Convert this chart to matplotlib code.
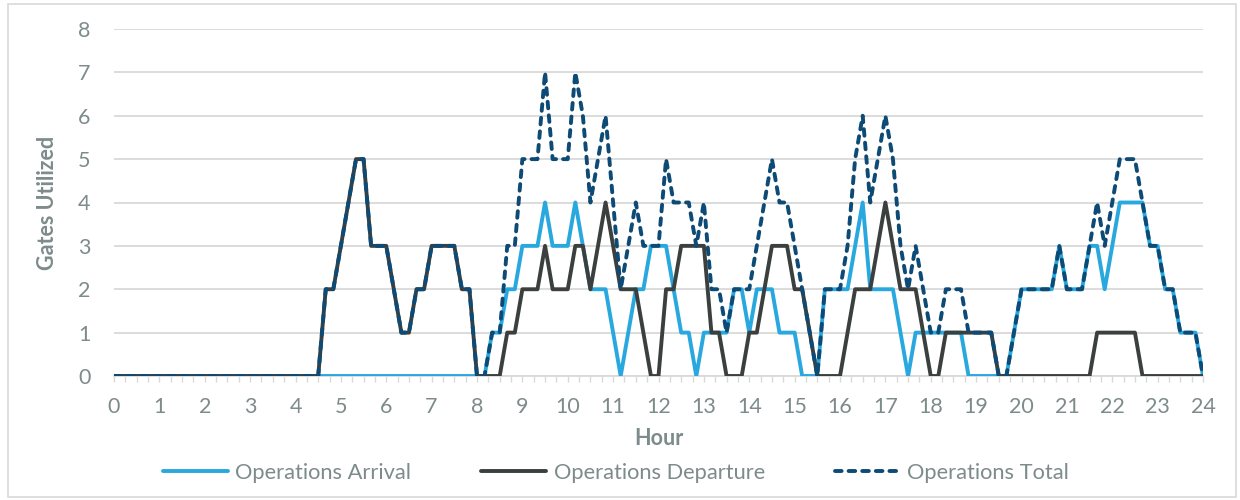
import matplotlib
matplotlib.use("Agg")
import matplotlib.pyplot as plt
from matplotlib.lines import Line2D
from matplotlib.patches import Rectangle

# Gate usage in 10-minute slots from 0:00 to 24:00 (six slots per hour, plus the 24:00 point)
arrival = [
    0, 0, 0, 0, 0, 0,   # 0
    0, 0, 0, 0, 0, 0,   # 1
    0, 0, 0, 0, 0, 0,   # 2
    0, 0, 0, 0, 0, 0,   # 3
    0, 0, 0, 0, 0, 0,   # 4
    0, 0, 0, 0, 0, 0,   # 5
    0, 0, 0, 0, 0, 0,   # 6
    0, 0, 0, 0, 0, 0,   # 7
    0, 0, 1, 1, 2, 2,   # 8
    3, 3, 3, 4, 3, 3,   # 9
    3, 4, 3, 2, 2, 2,   # 10
    1, 0, 1, 2, 2, 3,   # 11
    3, 3, 2, 1, 1, 0,   # 12
    1, 1, 1, 1, 2, 2,   # 13
    1, 2, 2, 2, 1, 1,   # 14
    1, 0, 0, 0, 2, 2,   # 15
    2, 2, 3, 4, 2, 2,   # 16
    2, 2, 1, 0, 1, 1,   # 17
    1, 1, 1, 1, 1, 0,   # 18
    0, 0, 0, 0, 0, 1,   # 19
    2, 2, 2, 2, 2, 3,   # 20
    2, 2, 2, 3, 3, 2,   # 21
    3, 4, 4, 4, 4, 3,   # 22
    3, 2, 2, 1, 1, 1,   # 23
    0,
]

departure = [
    0, 0, 0, 0, 0, 0,   # 0
    0, 0, 0, 0, 0, 0,   # 1
    0, 0, 0, 0, 0, 0,   # 2
    0, 0, 0, 0, 0, 0,   # 3
    0, 0, 0, 0, 2, 2,   # 4
    3, 4, 5, 5, 3, 3,   # 5
    3, 2, 1, 1, 2, 2,   # 6
    3, 3, 3, 3, 2, 2,   # 7
    0, 0, 0, 0, 1, 1,   # 8
    2, 2, 2, 3, 2, 2,   # 9
    2, 3, 3, 2, 3, 4,   # 10
    3, 2, 2, 2, 1, 0,   # 11
    0, 2, 2, 3, 3, 3,   # 12
    3, 1, 1, 0, 0, 0,   # 13
    1, 1, 2, 3, 3, 3,   # 14
    2, 2, 1, 0, 0, 0,   # 15
    0, 1, 2, 2, 2, 3,   # 16
    4, 3, 2, 2, 2, 1,   # 17
    0, 0, 1, 1, 1, 1,   # 18
    1, 1, 1, 0, 0, 0,   # 19
    0, 0, 0, 0, 0, 0,   # 20
    0, 0, 0, 0, 1, 1,   # 21
    1, 1, 1, 1, 0, 0,   # 22
    0, 0, 0, 0, 0, 0,   # 23
    0,
]

total = [
    0, 0, 0, 0, 0, 0,   # 0
    0, 0, 0, 0, 0, 0,   # 1
    0, 0, 0, 0, 0, 0,   # 2
    0, 0, 0, 0, 0, 0,   # 3
    0, 0, 0, 0, 2, 2,   # 4
    3, 4, 5, 5, 3, 3,   # 5
    3, 2, 1, 1, 2, 2,   # 6
    3, 3, 3, 3, 2, 2,   # 7
    0, 0, 1, 1, 3, 3,   # 8
    5, 5, 5, 7, 5, 5,   # 9
    5, 7, 6, 4, 5, 6,   # 10
    4, 2, 3, 4, 3, 3,   # 11
    3, 5, 4, 4, 4, 3,   # 12
    4, 2, 2, 1, 2, 2,   # 13
    2, 3, 4, 5, 4, 4,   # 14
    3, 2, 1, 0, 2, 2,   # 15
    2, 3, 5, 6, 4, 5,   # 16
    6, 5, 3, 2, 3, 2,   # 17
    1, 1, 2, 2, 2, 1,   # 18
    1, 1, 1, 0, 0, 1,   # 19
    2, 2, 2, 2, 2, 3,   # 20
    2, 2, 2, 3, 4, 3,   # 21
    4, 5, 5, 5, 4, 3,   # 22
    3, 2, 2, 1, 1, 1,   # 23
    0,
]

slots_per_hour = 6
times = [i / slots_per_hour for i in range(len(total))]
hour_ticks = list(range(0, 25))
y_ticks = list(range(0, 9))

series_names = ["Operations Arrival", "Operations Departure", "Operations Total"]
col_arrival = "#29a8e0"
col_departure = "#3b403f"
col_total = "#0d4a75"
text_col = "#7d8b8a"
grid_col = "#d9d9d9"
FONT = "Lato"

plt.rcParams["font.family"] = [FONT, "DejaVu Sans"]

fig = plt.figure(figsize=(12.4, 5.0), dpi=100)
ax = fig.add_axes([114 / 1240, 1 - 376 / 500, (1203 - 114) / 1240, (376 - 29) / 500])

lw = 2.8
ax.plot(times, arrival, color=col_arrival, lw=lw, solid_joinstyle="round",
        solid_capstyle="round", zorder=3)
ax.plot(times, departure, color=col_departure, lw=lw, solid_joinstyle="round",
        solid_capstyle="round", zorder=4)
ax.plot(times, total, color=col_total, lw=lw, ls=(0, (1.7, 1.8)),
        dash_capstyle="round", dash_joinstyle="round", zorder=5)

ax.set_xlim(0, 24)
ax.set_ylim(0, 8)
ax.set_xticks(hour_ticks)
ax.set_xticklabels([str(h) for h in hour_ticks])
ax.set_xticks([q / 4 for q in range(0, 97)], minor=True)
ax.set_yticks(y_ticks)

ax.grid(axis="y", color=grid_col, lw=1.3, zorder=0)
ax.set_axisbelow(True)
for side in ("top", "right", "left"):
    ax.spines[side].set_visible(False)
ax.spines["bottom"].set_color(grid_col)
ax.spines["bottom"].set_linewidth(1.3)

ax.tick_params(axis="x", which="both", direction="out", length=4, width=1.0,
               color=grid_col, labelcolor=text_col, labelsize=15.5, pad=11)
ax.tick_params(axis="y", length=0, labelcolor=text_col, labelsize=15.5, pad=17)

ax.set_xlabel("Hour", fontsize=15.5, fontweight="bold", color=text_col, labelpad=8)
ax.set_ylabel("Gates Utilized", fontsize=15.5, fontweight="bold", color=text_col, labelpad=14)

handles = [
    Line2D([], [], color=col_arrival, lw=lw, solid_capstyle="round"),
    Line2D([], [], color=col_departure, lw=lw, solid_capstyle="round"),
    Line2D([], [], color=col_total, lw=lw, ls=(0, (1.7, 1.8)), dash_capstyle="round"),
]
leg = fig.legend(handles, series_names, loc="center", bbox_to_anchor=(616 / 1240, 1 - 473 / 500),
                 ncol=3, frameon=False, fontsize=15.75, handlelength=2.95, handletextpad=0.35,
                 columnspacing=3.2)
for t in leg.get_texts():
    t.set_color(text_col)

# chart area border
fig.patches.append(Rectangle((8 / 1240, 3 / 500), (1236 - 8) / 1240, (496 - 3) / 500,
                             transform=fig.transFigure, fill=False, edgecolor=grid_col, lw=1.2))

fig.savefig("out.png", dpi=100, facecolor="white")
